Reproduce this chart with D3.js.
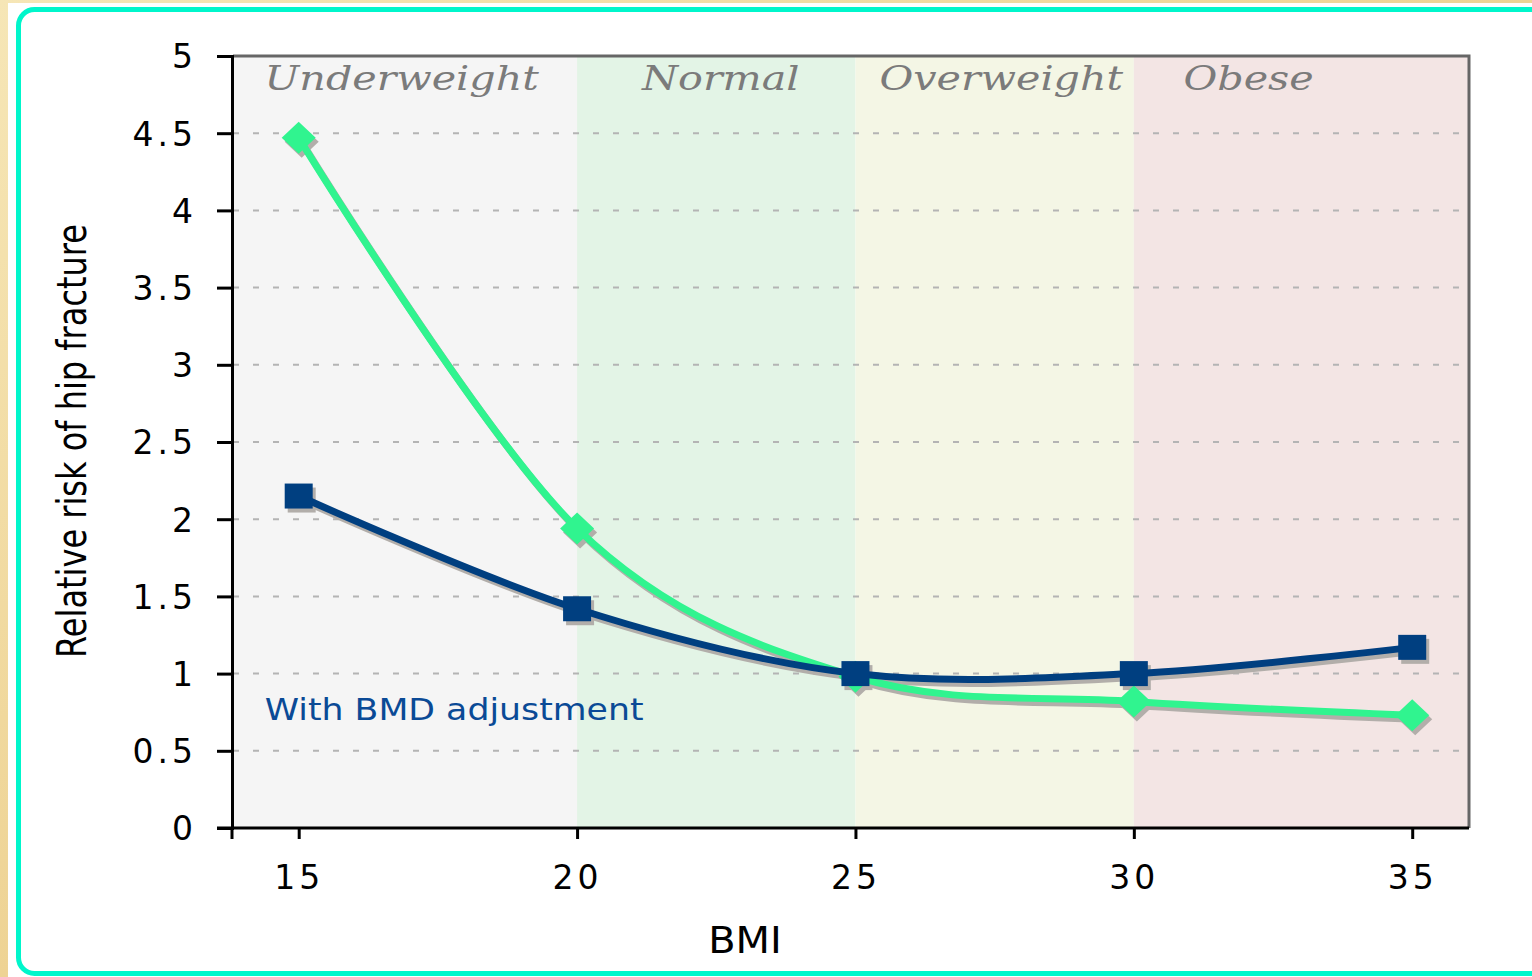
<!DOCTYPE html>
<html>
<head>
<meta charset="utf-8">
<script src="https://cdn.jsdelivr.net/npm/d3@7"></script>
<style>
  html, body { margin: 0; padding: 0; background: #f2dea6; }
  svg { display: block; }
</style>
</head>
<body>
<svg id="chart" width="1532" height="977"></svg>
<script>
// BMI categories (shaded bands)
var bandNames = ["Underweight", "Normal", "Overweight", "Obese"];
var bandStart = [13.82, 20, 25, 30];
var bandEnd = [20, 25, 30, 36.02];
var bandColors = ["#f5f5f5", "#e3f4e6", "#f4f6e5", "#f3e5e4"];
var bandLabelAt = [16.85, 22.58, 27.62, 32.06];

// series
var bmi = [15, 20, 25, 30, 35];
var withoutBMD = [4.47, 1.94, 0.98, 0.82, 0.73];   // green diamonds
var withBMD = [2.15, 1.42, 1.0, 1.0, 1.17];        // blue squares

var xTicks = [15, 20, 25, 30, 35];
var yTicks = [0, 0.5, 1, 1.5, 2, 2.5, 3, 3.5, 4, 4.5, 5];
var gridTicks = [0.5, 1, 1.5, 2, 2.5, 3, 3.5, 4, 4.5];

var noteText = "With BMD adjustment";
var noteAt = [14.39, 0.7];

(function () {

    var svg = d3.select("#chart");
    var W = 1532, H = 977;

    // beige backdrop + white card with teal border
    var defs = svg.append("defs");
    var bg = defs.append("linearGradient").attr("id", "bg")
        .attr("x1", "0").attr("y1", "0").attr("x2", "1").attr("y2", "1");
    bg.append("stop").attr("offset", "0").attr("stop-color", "#f6e6b6");
    bg.append("stop").attr("offset", "0.5").attr("stop-color", "#eed394");
    bg.append("stop").attr("offset", "1").attr("stop-color", "#f4e2ac");
    svg.append("rect").attr("width", W).attr("height", H).attr("fill", "url(#bg)");
    svg.append("rect").attr("x", 8).attr("y", 3).attr("width", W).attr("height", H)
        .attr("fill", "#fff");
    svg.append("rect").attr("x", 18.5).attr("y", 9.5).attr("width", W).attr("height", 964)
        .attr("rx", 16).attr("fill", "#fff")
        .attr("stroke", "#00f6cb").attr("stroke-width", 5);

    var plot = {left: 233, right: 1469, top: 56, bottom: 828};

    var x = d3.scaleLinear().domain([13.82, 36.02]).range([plot.left, plot.right]);
    var y = d3.scaleLinear().domain([0, 5]).range([plot.bottom, plot.top]);

    // bands
    svg.append("g").selectAll("rect")
        .data(bandNames)
        .join("rect")
        .attr("x", function (d, i) { return x(bandStart[i]); })
        .attr("y", plot.top)
        .attr("width", function (d, i) { return x(bandEnd[i]) - x(bandStart[i]); })
        .attr("height", plot.bottom - plot.top)
        .attr("fill", function (d, i) { return bandColors[i]; });

    // dashed grid
    svg.append("g").selectAll("line")
        .data(gridTicks)
        .join("line")
        .attr("x1", plot.left).attr("x2", plot.right)
        .attr("y1", function (d) { return y(d); })
        .attr("y2", function (d) { return y(d); })
        .attr("stroke", "#b4b4b4")
        .attr("stroke-width", 2)
        .attr("stroke-dasharray", "6,14");

    // top / right frame
    svg.append("path")
        .attr("d", "M" + plot.left + "," + (plot.top) + "H" + plot.right + "V" + plot.bottom)
        .attr("fill", "none").attr("stroke", "#666").attr("stroke-width", 3);

    // band labels
    svg.append("g").selectAll("text")
        .data(bandNames)
        .join("text")
        .attr("transform", function (d, i) {
            return "translate(" + x(bandLabelAt[i]) + ",90) scale(1.25,1)";
        })
        .attr("text-anchor", "middle")
        .style("font-family", "'DejaVu Serif', serif")
        .style("font-style", "italic")
        .style("font-size", "33px")
        .attr("fill", "#7b7b7b")
        .text(function (d) { return d; });

    // series
    var line = d3.line()
        .x(function (d) { return x(d[0]); })
        .y(function (d) { return y(d[1]); })
        .curve(d3.curveCatmullRom.alpha(0));

    var diamond = "M0,-16L17,0L0,16L-17,0Z";
    var square = "M-14,-12.5H14V12.5H-14Z";

    var series = [
        {vals: withBMD, color: "#003f80", shape: square},
        {vals: withoutBMD, color: "#30f48f", shape: diamond}
    ];

    // shadows first
    series.forEach(function (s) {
        var pts = bmi.map(function (b, i) { return [b, s.vals[i]]; });
        var g = svg.append("g").attr("transform", "translate(3,4)");
        g.append("path").attr("d", line(pts))
            .attr("fill", "none").attr("stroke", "#b2aeaa").attr("stroke-width", 7);
        g.selectAll("path.m").data(pts).join("path").attr("class", "m")
            .attr("d", s.shape)
            .attr("transform", function (d) { return "translate(" + x(d[0]) + "," + y(d[1]) + ")"; })
            .attr("fill", "#b2aeaa");
    });

    // green drawn first so blue sits on top (as in the picture at 25)
    [series[1], series[0]].forEach(function (s) {
        var pts = bmi.map(function (b, i) { return [b, s.vals[i]]; });
        var g = svg.append("g");
        g.append("path").attr("d", line(pts))
            .attr("fill", "none").attr("stroke", s.color).attr("stroke-width", 7);
        g.selectAll("path.m").data(pts).join("path").attr("class", "m")
            .attr("d", s.shape)
            .attr("transform", function (d) { return "translate(" + x(d[0]) + "," + y(d[1]) + ")"; })
            .attr("fill", s.color);
    });

    // axes
    var yAxis = d3.axisLeft(y).tickValues(yTicks).tickSize(15).tickPadding(20)
        .tickFormat(function (d) { return d.toString(); });
    var yg = svg.append("g").attr("transform", "translate(" + (plot.left - 1) + ",0)").call(yAxis);
    yg.select(".domain").attr("stroke", "#000").attr("stroke-width", 3);
    yg.selectAll(".tick line").attr("stroke", "#000").attr("stroke-width", 3);
    yg.selectAll(".tick text")
        .attr("fill", "#000")
        .style("font-family", "'DejaVu Sans', sans-serif")
        .style("font-size", "33px")
        .style("letter-spacing", "4px")
        .attr("dy", "0.36em");

    var xAxis = d3.axisBottom(x).tickValues(xTicks).tickSize(11).tickPadding(20)
        .tickFormat(function (d) { return d.toString(); });
    var xg = svg.append("g").attr("transform", "translate(0," + plot.bottom + ")").call(xAxis);
    xg.select(".domain").attr("d", "M" + (plot.left - 16) + ",0H" + plot.right)
        .attr("stroke", "#000").attr("stroke-width", 3);
    xg.selectAll(".tick line").attr("stroke", "#000").attr("stroke-width", 3);
    xg.selectAll(".tick text")
        .attr("fill", "#000")
        .style("font-family", "'DejaVu Sans', sans-serif")
        .style("font-size", "33px")
        .attr("dy", "0.9em")
        .style("letter-spacing", "4px");
    // small tick under left axis
    xg.append("line").attr("x1", plot.left - 1).attr("x2", plot.left - 1)
        .attr("y1", 0).attr("y2", 11).attr("stroke", "#000").attr("stroke-width", 3);

    // axis titles
    svg.append("text")
        .attr("transform", "translate(745,953) scale(1.05,1)")
        .attr("text-anchor", "middle")
        .style("font-family", "'DejaVu Sans', sans-serif")
        .style("font-size", "38px")
        .attr("fill", "#000")
        .text("BMI");

    svg.append("text")
        .attr("transform", "translate(86,441) scale(1.3,1) rotate(-90)")
        .attr("text-anchor", "middle")
        .style("font-family", "'DejaVu Sans', sans-serif")
        .style("font-size", "32px")
        .attr("fill", "#000")
        .text("Relative risk of hip fracture");

    // note
    svg.append("text")
        .attr("transform", "translate(" + x(noteAt[0]) + "," + y(noteAt[1]) + ") scale(1.12,1)")
        .style("font-family", "'DejaVu Sans', sans-serif")
        .style("font-size", "31px")
        .attr("fill", "#0a4a96")
        .text(noteText);
}());
</script>
</body>
</html>
